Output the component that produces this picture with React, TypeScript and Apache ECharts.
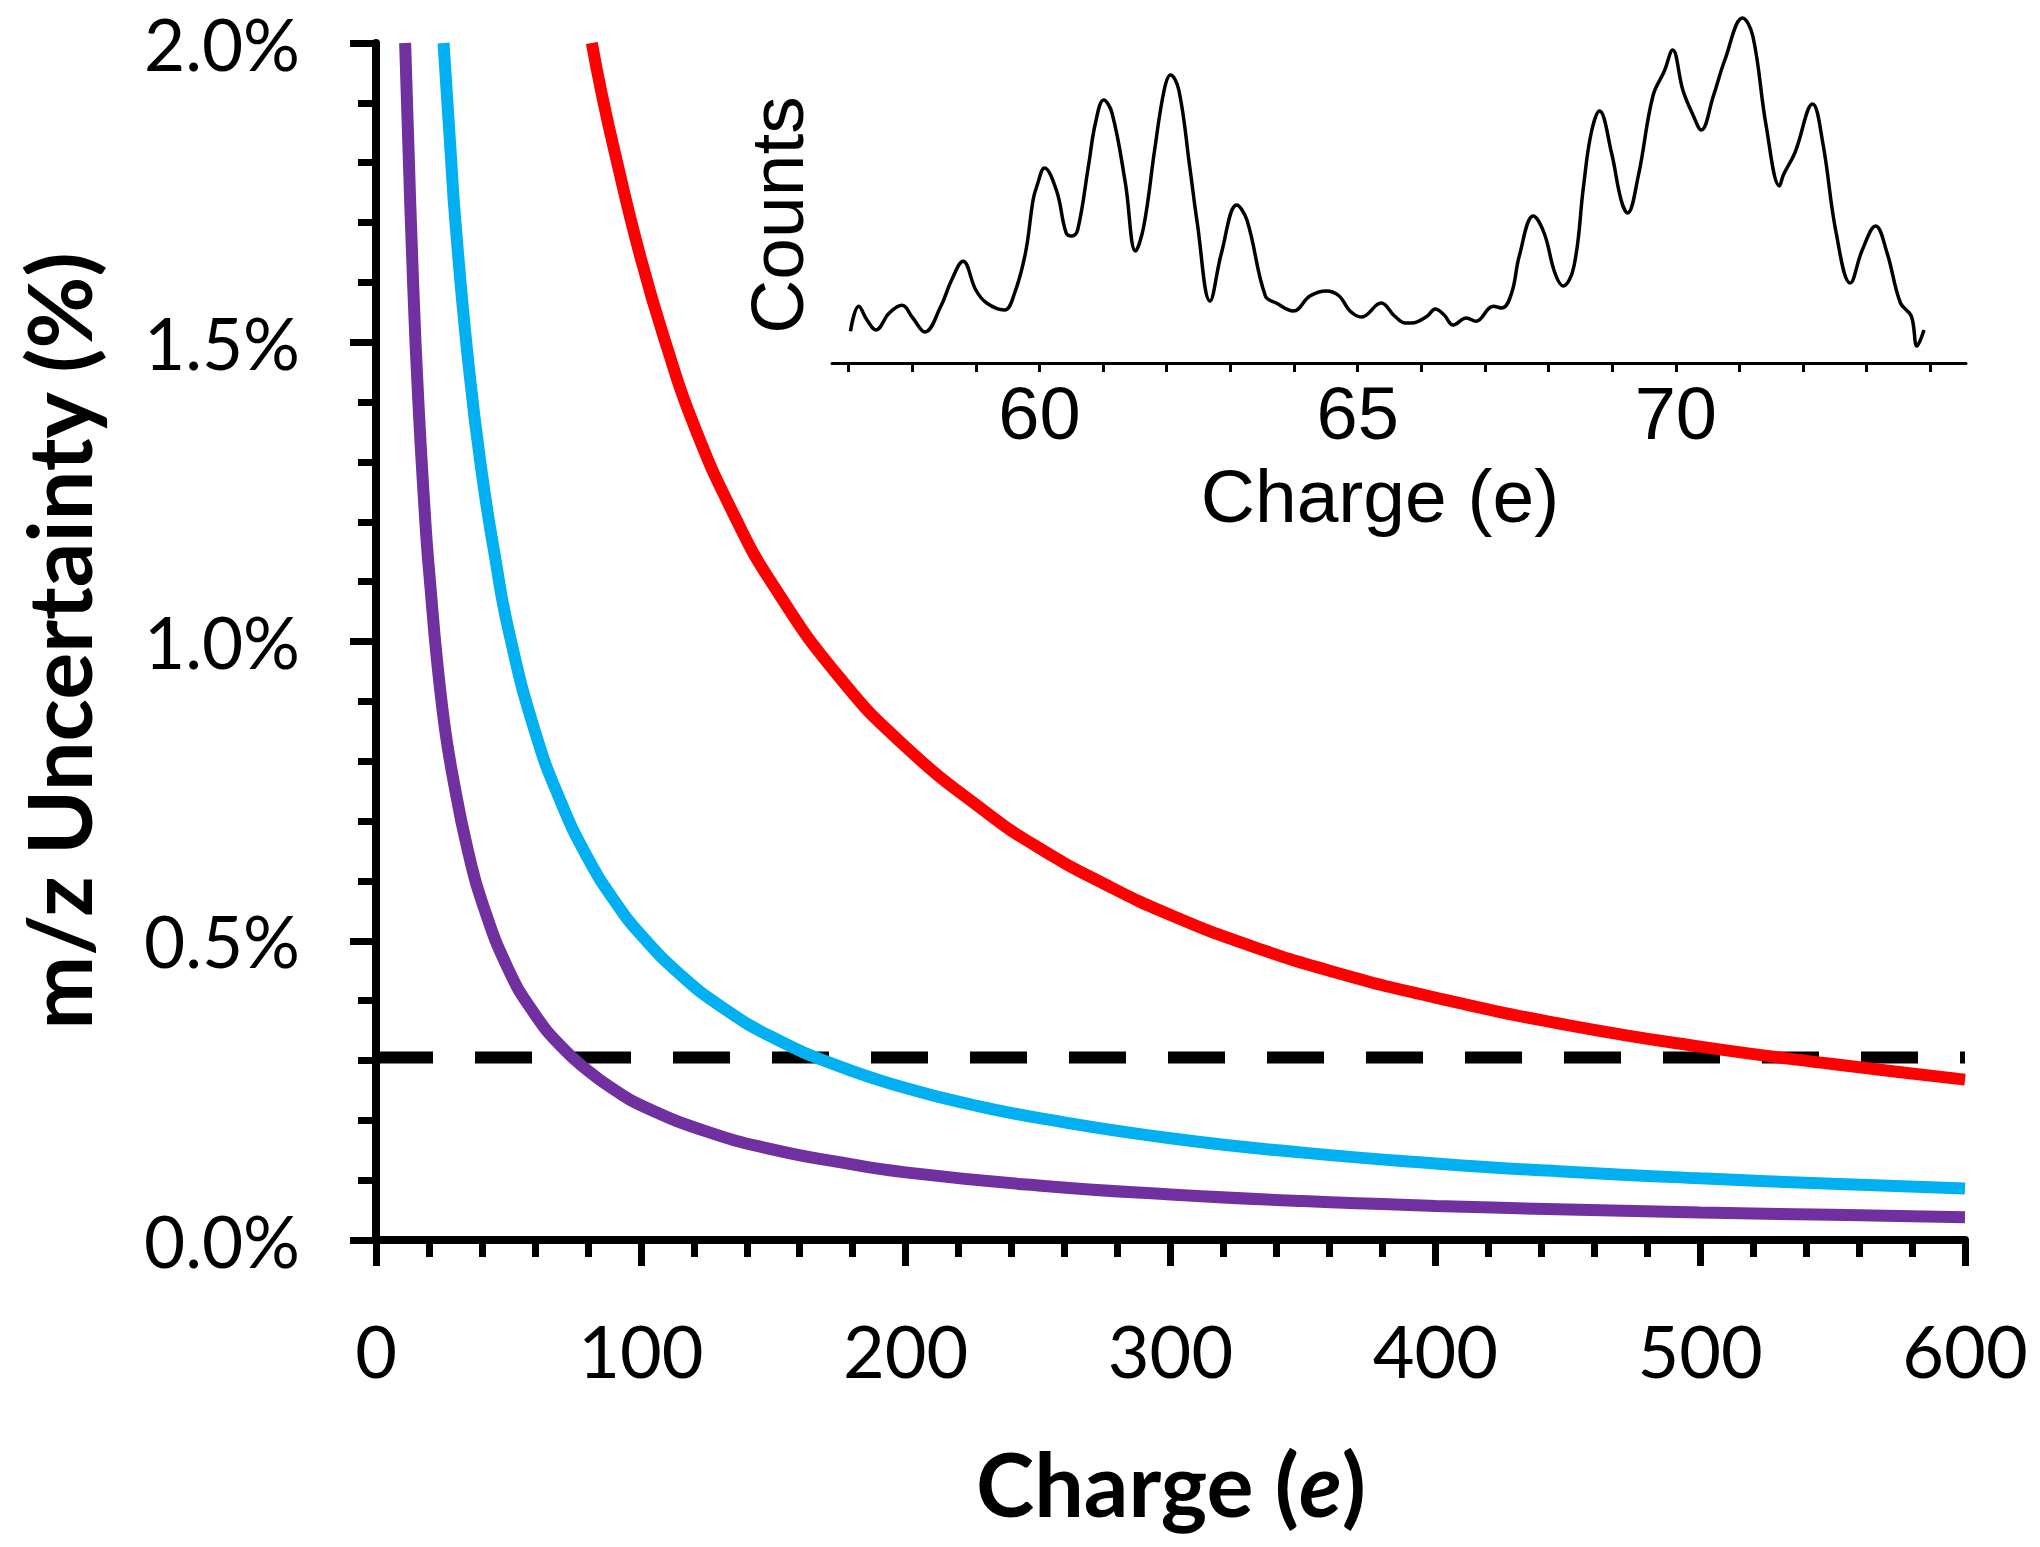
import React, { useEffect, useRef } from "react";
import * as echarts from "echarts";

// Main panel: m/z uncertainty (%) vs charge (e)
const purplePts: number[][] = [
  [11, 2.0], [12, 1.86], [14, 1.6], [16, 1.4], [18, 1.245], [20, 1.12], [25, 0.89], [30, 0.75],
  [35, 0.645], [40, 0.565], [50, 0.452], [60, 0.377], [70, 0.323], [80, 0.283], [90, 0.251],
  [100, 0.225], [125, 0.181], [150, 0.151], [175, 0.13], [200, 0.113], [250, 0.091],
  [300, 0.076], [350, 0.065], [400, 0.057], [450, 0.051], [500, 0.046], [550, 0.042], [600, 0.038],
];
const cyanPts: number[][] = [
  [25.5, 2.0], [28, 1.83], [30, 1.7], [35, 1.46], [40, 1.28], [45, 1.14], [50, 1.02], [60, 0.85],
  [70, 0.73], [80, 0.638], [90, 0.567], [100, 0.51], [115, 0.443], [130, 0.391], [150, 0.338],
  [175, 0.29], [200, 0.254], [225, 0.226], [250, 0.204], [300, 0.17], [350, 0.146], [400, 0.128],
  [450, 0.114], [500, 0.103], [550, 0.094], [600, 0.086],
];
const redPts: number[][] = [
  [81.5, 2.0], [85, 1.92], [90, 1.82], [100, 1.64], [110, 1.49], [120, 1.362], [135, 1.213], [150, 1.094],
  [175, 0.94], [200, 0.824], [230, 0.716], [250, 0.656], [275, 0.595], [300, 0.543], [330, 0.492],
  [360, 0.45], [400, 0.405], [450, 0.359], [500, 0.323], [550, 0.294], [600, 0.268],
];
const thresholdCharge = [0, 600];
const thresholdValue = [0.305, 0.305];

// Inset: charge distribution
const insetCharge = [
  57.03, 57.16, 57.29, 57.43, 57.64, 57.84, 58.01, 58.2, 58.45, 58.62, 58.8, 59.0, 59.17, 59.45,
  59.61, 59.78, 59.9, 59.96, 60.08, 60.27, 60.42, 60.51, 60.6, 60.77, 60.88, 61.01, 61.14, 61.35,
  61.51, 61.64, 61.81, 61.96, 62.06, 62.19, 62.36, 62.48, 62.68, 62.86, 63.1, 63.26, 63.55, 63.72,
  63.99, 64.25, 64.51, 64.71, 64.88, 65.06, 65.37, 65.58, 65.75, 65.85, 66.09, 66.22, 66.36, 66.5,
  66.71, 66.86, 67.13, 67.27, 67.42, 67.54, 67.76, 67.93, 68.1, 68.23, 68.4, 68.55, 68.67, 68.8,
  68.99, 69.14, 69.24, 69.41, 69.64, 69.82, 69.95, 70.11, 70.27, 70.4, 70.59, 70.77, 71.05, 71.21,
  71.42, 71.63, 71.69, 71.87, 72.15, 72.31, 72.52, 72.74, 72.93, 73.14, 73.32, 73.53, 73.7, 73.79,
  73.9,
];
const insetCounts = [
  31.7, 56.7, 43, 33, 50, 57.7, 45, 31, 56.7, 83, 101.7, 73, 60, 53,
  70, 110, 163, 177, 195, 172, 130, 127, 133, 197, 240, 263, 250, 180,
  112, 137, 213, 273, 288, 273, 197, 140, 62, 110, 158, 143, 67, 60,
  52, 67, 72, 67, 52, 46, 60, 47, 40, 40, 46.7, 54, 48, 38,
  45, 41.7, 56.7, 55, 70, 107, 147, 130, 90, 77, 97, 177, 230, 252,
  210, 163, 150, 187, 267, 292, 313, 273, 248, 233, 267, 303, 345, 327,
  237, 177, 188, 210, 259, 220, 130, 80, 113, 137, 110, 60, 47, 17,
  33,
];
const insetTicks = [57, 58, 59, 60, 61, 62, 63, 64, 65, 66, 67, 68, 69, 70, 71, 72, 73, 74];
const insetLabels = [60, 65, 70];

const FONT = "Lato, 'Open Sans', sans-serif";
const INSET_FONT = "'Liberation Sans', Arial, sans-serif";

export default function App() {
  const ref = useRef<HTMLDivElement>(null);
  useEffect(() => {
    if (!ref.current) return;
    const chart = echarts.init(ref.current, null, { renderer: "svg" });
    const insetData = insetCharge.map((c, i) => [c, insetCounts[i]]);
    const option: any = {
      animation: false,
      backgroundColor: "#ffffff",
      grid: [
        { left: 376, top: 43, right: 75, bottom: 307 },
        { left: 832, top: 13, right: 74, bottom: 1184 },
      ],
      xAxis: [
        {
          type: "value", gridIndex: 0, min: 0, max: 600, interval: 100,
          axisLine: { show: true, lineStyle: { color: "#000", width: 8 } },
          axisTick: { show: true, length: 26, lineStyle: { color: "#000", width: 7 } },
          minorTick: { show: true, splitNumber: 5, length: 17, lineStyle: { color: "#000", width: 7 } },
          splitLine: { show: false },
          axisLabel: { color: "#000", fontFamily: FONT, fontSize: 72, margin: 74 },
        },
        {
          type: "value", gridIndex: 1, min: 56.74, max: 74.56,
          axisLine: { show: true, onZero: false, lineStyle: { color: "#000", width: 3 } },
          axisTick: { show: true, length: 9, customValues: insetTicks, lineStyle: { color: "#000", width: 3 } },
          splitLine: { show: false },
          axisLabel: { color: "#000", fontFamily: INSET_FONT, fontSize: 74, margin: 13, customValues: insetLabels },
        },
      ],
      yAxis: [
        {
          type: "value", gridIndex: 0, min: 0, max: 2, interval: 0.5,
          axisLine: { show: true, lineStyle: { color: "#000", width: 8 } },
          axisTick: { show: true, length: 26, lineStyle: { color: "#000", width: 7 } },
          minorTick: { show: true, splitNumber: 5, length: 18, lineStyle: { color: "#000", width: 7 } },
          splitLine: { show: false },
          axisLabel: {
            color: "#000", fontFamily: FONT, fontSize: 71, lineHeight: 60, margin: 76,
            formatter: (v: number) => v.toFixed(1) + "%",
          },
        },
        {
          type: "value", gridIndex: 1, min: 0, max: 350, show: false,
        },
      ],
      graphic: [
        {
          type: "text", x: 58, y: 641, rotation: Math.PI / 2,
          style: {
            text: "m/z Uncertainty (%)", fill: "#000",
            fontFamily: FONT, fontWeight: "bold", fontSize: 88,
            textAlign: "center", textVerticalAlign: "middle",
          },
        },
        {
          type: "text", x: 1171, y: 1483,
          style: {
            text: "Charge ({i|e})", fill: "#000",
            fontFamily: FONT, fontWeight: "bold", fontSize: 88,
            textAlign: "center", textVerticalAlign: "middle",
            rich: { i: { fontFamily: FONT, fontWeight: "bold", fontStyle: "italic", fontSize: 88, fill: "#000" } },
          },
        },
        {
          type: "text", x: 777, y: 215, rotation: Math.PI / 2,
          style: {
            text: "Counts", fill: "#000", fontFamily: INSET_FONT, fontSize: 75,
            textAlign: "center", textVerticalAlign: "middle",
          },
        },
        {
          type: "text", x: 1380, y: 496,
          style: {
            text: "Charge (e)", fill: "#000", fontFamily: INSET_FONT, fontSize: 75,
            textAlign: "center", textVerticalAlign: "middle",
          },
        },
      ],
      series: [
        {
          name: "threshold", type: "line", xAxisIndex: 0, yAxisIndex: 0, symbol: "none",
          data: thresholdCharge.map((c, i) => [c, thresholdValue[i]]),
          lineStyle: { color: "#000", width: 12, type: [57, 42] },
        },
        {
          name: "purple", type: "line", xAxisIndex: 0, yAxisIndex: 0, symbol: "none", smooth: true,
          data: purplePts, lineStyle: { color: "#7030A0", width: 12 },
        },
        {
          name: "cyan", type: "line", xAxisIndex: 0, yAxisIndex: 0, symbol: "none", smooth: true,
          data: cyanPts, lineStyle: { color: "#00B0F0", width: 12 },
        },
        {
          name: "red", type: "line", xAxisIndex: 0, yAxisIndex: 0, symbol: "none", smooth: true,
          data: redPts, lineStyle: { color: "#FF0000", width: 12 },
        },
        {
          name: "inset", type: "line", xAxisIndex: 1, yAxisIndex: 1, symbol: "none", smooth: 0.4,
          data: insetData, lineStyle: { color: "#000", width: 3.5 },
        },
      ],
    };
    chart.setOption(option);
    return () => chart.dispose();
  }, []);
  return (
    <div
      ref={ref}
      style={{ position: "absolute", left: 0, top: 0, width: 2040, height: 1547, background: "#fff" }}
    />
  );
}
